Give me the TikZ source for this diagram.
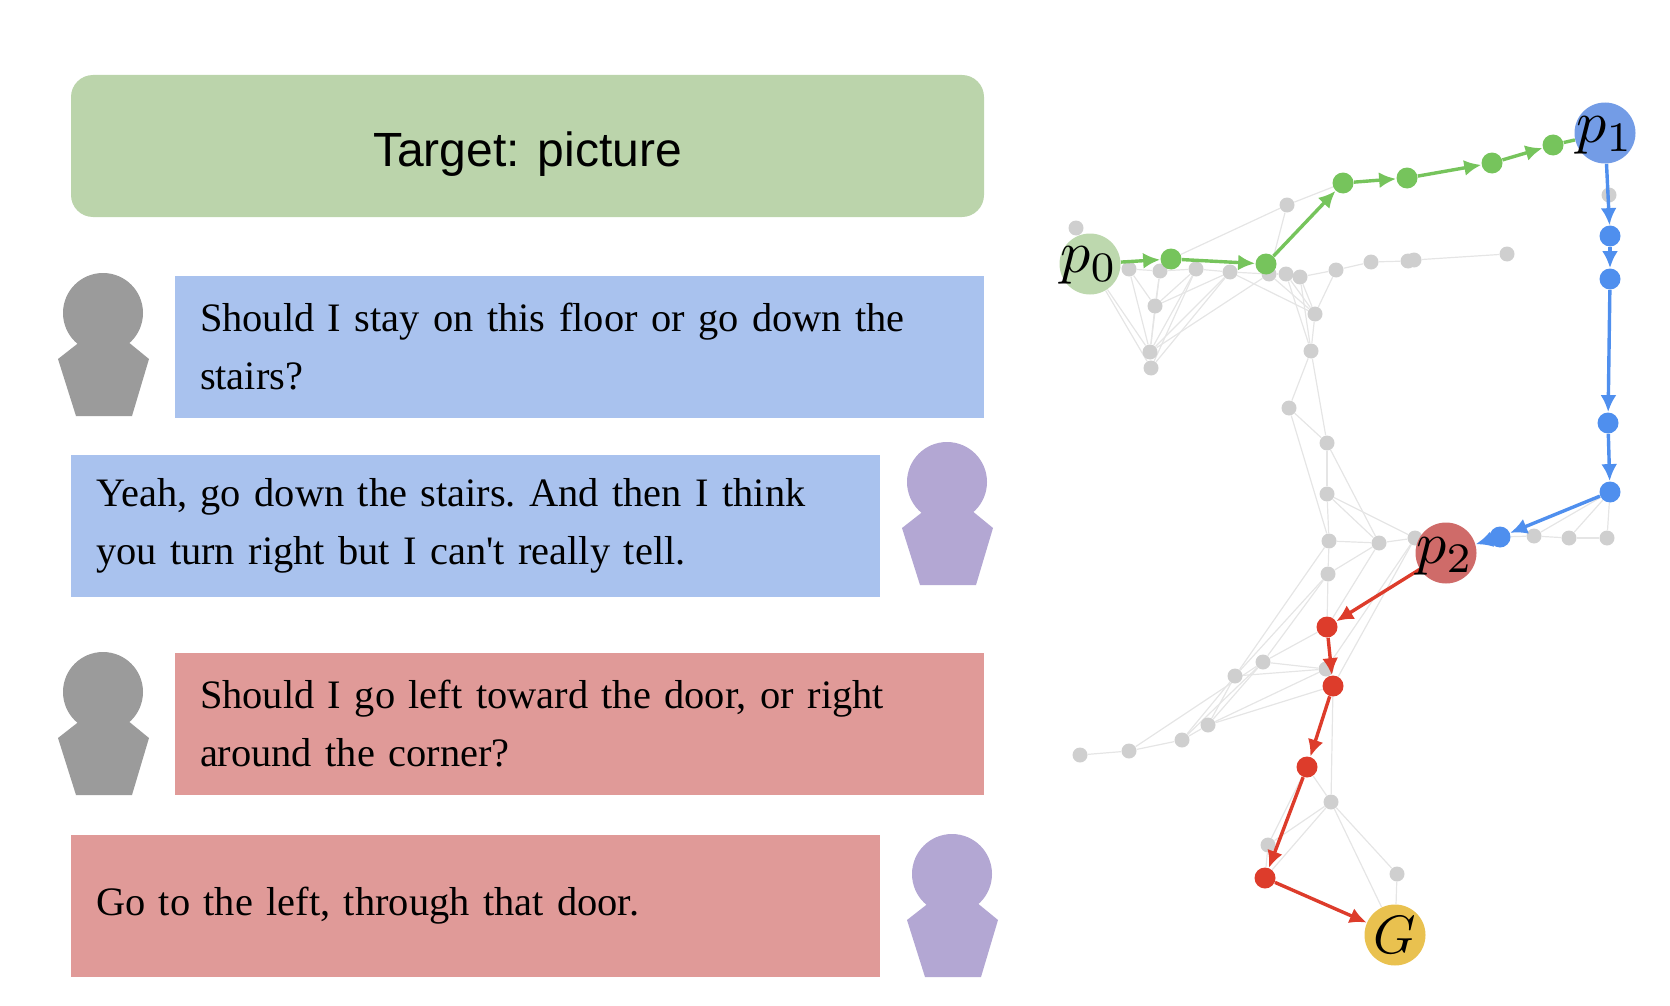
\documentclass[tikz,border=0pt]{standalone}
\usepackage{fontspec}
\setmainfont{Liberation Serif}
\newfontfamily\targetfont{Liberation Sans}
\usetikzlibrary{arrows.meta,backgrounds}

\definecolor{targetgreen}{HTML}{BBD4AB}
\definecolor{boxblue}{HTML}{A9C2EE}
\definecolor{boxred}{HTML}{E09A98}
\definecolor{askergray}{HTML}{9B9B9B}
\definecolor{guidepurple}{HTML}{B3A7D3}
\definecolor{pathgreen}{HTML}{76C45C}
\definecolor{pathblue}{HTML}{4F8FEE}
\definecolor{pathred}{HTML}{DD3C2B}
\definecolor{startgreen}{HTML}{BDD8AE}
\definecolor{midblue}{HTML}{739CE6}
\definecolor{midred}{HTML}{CF6B69}
\definecolor{goalyellow}{HTML}{E9C14F}

\tikzset{
    msgbox/.style={rectangle, inner xsep=12.5pt, inner ysep=0pt, minimum height=71pt,
        align=left, text width=379.5pt, font=\fontsize{20.2}{29}\selectfont\frenchspacing},
    graynode/.style={circle, fill=black!19, inner sep=0pt, minimum size=7.5pt},
    graphedge/.style={draw=black!10, line width=0.6pt},
    waypoint/.style={circle, inner sep=0pt, minimum size=10.5pt},
    bignode/.style={circle, inner sep=0pt, minimum size=30.5pt},
    bigtext/.style={scale=3, text=black, inner sep=0pt},
    pathedge/.style={line width=1.7pt, -{Latex[length=8.5pt,width=8pt]}},
    person/.pic={
        \fill[#1] (0,0) circle[radius=40];
        \fill[#1] (-22,28) -- (-45,46) -- (-27,103) -- (29,103) -- (46,46) -- (24,28) -- cycle;
    }
}

\begin{document}
\begin{tikzpicture}[x=0.5pt, y=-0.5pt]
    \useasboundingbox (0,0) rectangle (1670,1006);

    % --- LEFT SIDE (Dialogue) ---
    \node[rectangle, rounded corners=11pt, fill=targetgreen, minimum width=456.5pt, minimum height=71pt,
        text height=25pt, text depth=5pt,
        font=\targetfont\fontsize{24}{28}\selectfont] (target) at (527.5,146) {Target: picture};

    \node[msgbox, fill=boxblue] (ask1) at (579.5,346.5) {Should I stay on this floor or go down the\\stairs?};
    \node[msgbox, fill=boxblue] (answer1) at (475.5,526) {Yeah, go down the stairs. And then I think\\you turn right but I can\textquotesingle t really tell.};
    \node[msgbox, fill=boxred] (ask2) at (579.5,724) {Should I go left toward the door, or right\\around the corner?};
    \node[msgbox, fill=boxred] (answer2) at (475.5,906) {Go to the left, through that door.};

    % Speakers
    \pic at (103,313) {person=askergray};
    \pic at (947,482) {person=guidepurple};
    \pic at (103,692) {person=askergray};
    \pic at (952,874) {person=guidepurple};

    % --- RIGHT SIDE (Graph) ---

    % Gray vertices
    \foreach \name/\x/\y in {
        a1/1076/228, a2/1129/269, a3/1160/271, a4/1196/269, a5/1230/272, a6/1269/274,
        a7/1286/274, a8/1300/277, a9/1336/270, a10/1371/262, a11/1408/261, a12/1414/260,
        a13/1507/254, b1/1287/205, b2/1155/306, b3/1150/352, b4/1151/368, b5/1315/314,
        b6/1311/351, b7/1289/408, c1/1609/195, d1/1327/443, d2/1327/494, d3/1329/541,
        d4/1379/543, d5/1415/538, d6/1328/574, e1/1534/536, e2/1569/538, e3/1607/538,
        f1/1263/662, f2/1235/676, f3/1326/669, g1/1080/755, g2/1129/751, g3/1182/740,
        g4/1208/725, h1/1331/802, h2/1268/845, h3/1397/874}
        \node[graynode] (\name) at (\x,\y) {};

    % Path vertices
    \foreach \name/\x/\y in {s1/1171/259, s2/1266/264, s3/1343/183, s4/1407/178, s5/1492/163, s6/1553/145}
        \node[waypoint, fill=pathgreen] (\name) at (\x,\y) {};
    \foreach \name/\x/\y in {m1/1610/236, m2/1610/279, m3/1608/423, m4/1610/492, m5/1500/537}
        \node[waypoint, fill=pathblue] (\name) at (\x,\y) {};
    \foreach \name/\x/\y in {r1/1327/627, r2/1333/686, r3/1307/767, r4/1265/878}
        \node[waypoint, fill=pathred] (\name) at (\x,\y) {};

    % Large vertices
    \node[bignode, fill=startgreen] (p0) at (1090,264) {};
    \node[bignode, fill=midblue] (p1) at (1605,133) {};
    \node[bignode, fill=midred] (p2) at (1446,553) {};
    \node[bignode, fill=goalyellow] (G) at (1395,935) {};

    % Gray edges
    \begin{scope}[on background layer]
        \foreach \from/\to in {
            p0/a1, p0/a2, p0/b3, p0/b4, a2/a3, a3/a4, a4/a5, a5/a6, a6/a7, a7/a8, a8/a9,
            a9/a10, a10/a11, a12/a13, a2/b3, a2/b2, a3/b2, a3/b3, a4/b2, a4/b3, a4/b4,
            a5/b2, a5/b3, a5/b4, a6/b3, a5/b5, a6/b5, a7/b5, a8/b5, a7/b6, a8/b6, a9/b5,
            b2/b3, b3/b4, b5/b6, s1/b1, b1/s3, b1/a6, s2/a6, b6/b7, b6/d1, b7/d1, b7/d3,
            d1/d2, d1/d4, d2/d3, d2/d4, d2/d5, d3/d4, d4/d5, d3/d6, d4/d6, d3/f2, d6/f1,
            d6/r1, d4/r1, d5/r2, d5/f3, d6/f2, r1/f1, f1/f3, f2/f3, f1/g2, f1/g3, f1/g4,
            f2/g3, f2/g4, g1/g2, g2/g3, g3/g4, g4/r2, g4/f3, f3/r2, r2/h1, r3/h1, h1/h2,
            h1/r4, h2/r3, h2/r4, h1/h3, h1/G, h3/G, e1/e2, e2/e3, m4/e1, m4/e2, m4/e3,
            m5/e1, d5/p2, p1/c1, c1/m1}
            \draw[graphedge] (\from) -- (\to);
    \end{scope}

    % Green leg
    \foreach \from/\to in {p0/s1, s1/s2, s2/s3, s3/s4, s4/s5, s5/s6}
        \draw[pathedge, pathgreen] (\from) -- (\to);
    \draw[line width=1.7pt, pathgreen] (s6) -- (p1);

    % Blue leg
    \foreach \from/\to in {p1/m1, m1/m2, m2/m3, m3/m4, m4/m5, m5/p2}
        \draw[pathedge, pathblue] (\from) -- (\to);

    % Red leg
    \foreach \from/\to in {p2/r1, r1/r2, r2/r3, r3/r4, r4/G}
        \draw[pathedge, pathred] (\from) -- (\to);

    % Vertex labels
    \node[bigtext] (p0text) at (1089,265) {$p_0$};
    \node[bigtext] (p1text) at (1605,135) {$p_1$};
    \node[bigtext] (p2text) at (1445,556) {$p_2$};
    \node[bigtext, scale=0.9] (Gtext) at (1395,935) {$G$};

\end{tikzpicture}
\end{document}
